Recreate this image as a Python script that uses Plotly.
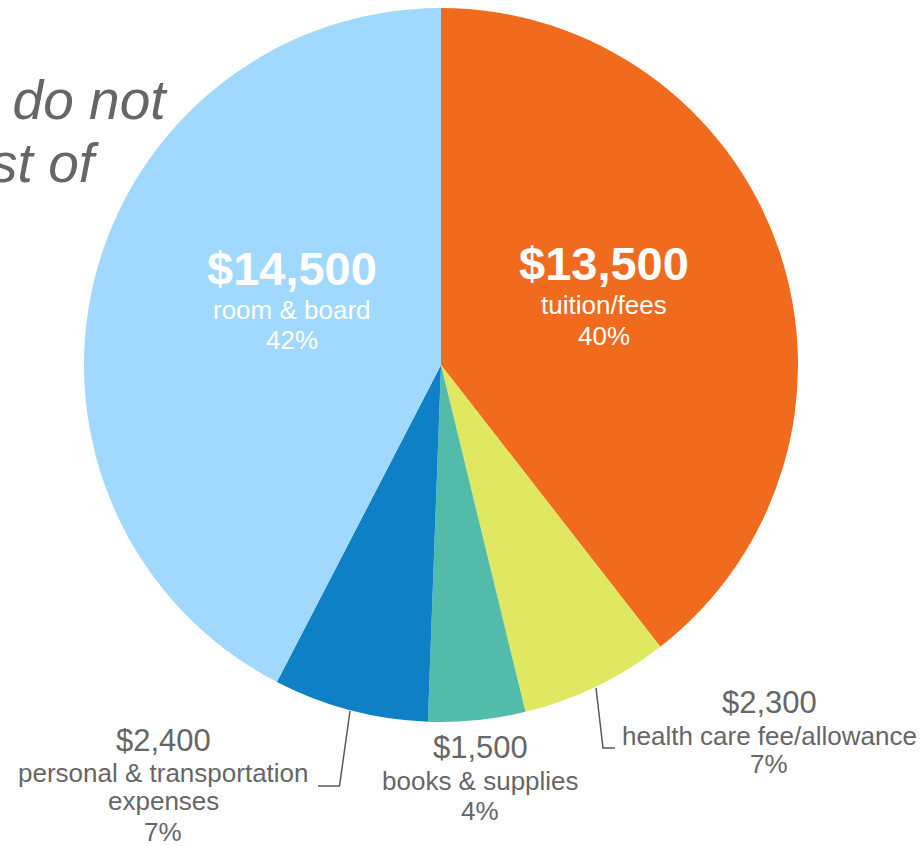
import plotly.graph_objects as go

W, H = 922, 846
OFF = 0  # body margin removed via post_script

# ---- data ----
categories = ["tuition/fees", "health care fee/allowance", "books & supplies",
              "personal & transportation<br>expenses", "room & board"]
amounts = [13500, 2300, 1500, 2400, 14500]
amount_labels = ["$13,500", "$2,300", "$1,500", "$2,400", "$14,500"]
pct_labels = ["40%", "7%", "4%", "7%", "42%"]
slice_colors = ["#F06B1E", "#E0E862", "#52BBAA", "#0E80C6", "#A1D8FE"]

# ---- layout helpers (page pixel -> paper) ----
def px(x, y):
    return (x - OFF) / W, 1 - (y - OFF) / H

cx, cy, r = 441, 365, 357
x0, y0 = px(cx - r, cy + r)
x1, y1 = px(cx + r, cy - r)

fig = go.Figure(go.Pie(
    labels=categories,
    values=amounts,
    sort=False,
    direction="clockwise",
    rotation=0,
    marker=dict(colors=slice_colors, line=dict(width=0)),
    textinfo="none",
    hoverinfo="label+value+percent",
    domain=dict(x=[x0, x1], y=[y0, y1]),
    showlegend=False,
))

FONT = "Liberation Sans, Arial, sans-serif"
GREY = "#666666"

label_pos = {
    0: dict(x=604, ys=[263.5, 304.5, 335.5], inside=True),
    4: dict(x=292, ys=[268.5, 309.5, 339.5], inside=True),
    1: dict(x=769, ys=[702, 736, 764], inside=False),
    2: dict(x=480.5, ys=[747.5, 780.5, 810.5], inside=False),
    3: dict(x=163, ys=[740, 772.5, 801, 831.5], inside=False),
}

annotations = []
for i, pos in label_pos.items():
    name_lines = categories[i].split("<br>")
    lines = [amount_labels[i]] + name_lines + [pct_labels[i]]
    for j, (txt, ym) in enumerate(zip(lines, pos["ys"])):
        if pos["inside"]:
            if j == 0:
                f = dict(family=FONT, size=47, color="white", weight="bold")
                txt = "<b>" + txt + "</b>"
            else:
                f = dict(family=FONT, size=26, color="white")
        else:
            f = dict(family=FONT, size=31 if j == 0 else 26, color=GREY)
        ax, ay = px(pos["x"], ym)
        annotations.append(dict(x=ax, y=ay, xref="paper", yref="paper",
                                text=txt, showarrow=False, xanchor="center",
                                yanchor="middle", font=f))

# partially visible italic slide text on the left
for txt, xr, ym in [("we do not", 170, 100), ("cost of", 102, 163)]:
    ax, ay = px(xr, ym)
    annotations.append(dict(x=ax, y=ay, xref="paper", yref="paper", text=txt,
                            showarrow=False, xanchor="right", yanchor="middle",
                            font=dict(family=FONT, size=55, color=GREY, style="italic")))

# leader lines
shapes = []
for pts in [[(596, 688), (603, 748), (615, 748)],
            [(350, 711), (339.5, 786), (318, 786)]]:
    path = "M " + " L ".join(f"{px(a, b)[0]} {px(a, b)[1]}" for a, b in pts)
    shapes.append(dict(type="path", xref="paper", yref="paper", path=path,
                       line=dict(color="#595959", width=1.5)))

fig.update_layout(
    width=W, height=H,
    margin=dict(l=0, r=0, t=0, b=0),
    paper_bgcolor="white", plot_bgcolor="white",
    annotations=annotations, shapes=shapes,
)

fig.write_html("out.html", config={"displayModeBar": False},
               post_script="document.body.style.margin='0px';document.body.style.overflow='hidden';")
